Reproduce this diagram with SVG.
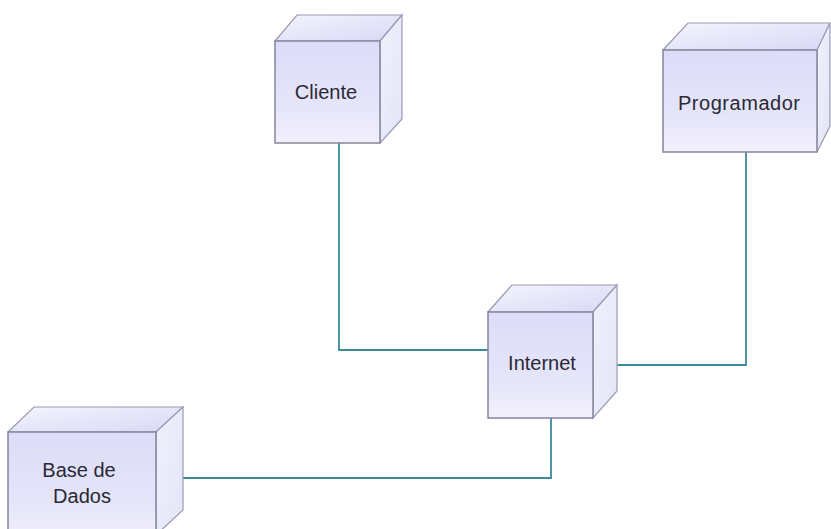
<svg xmlns="http://www.w3.org/2000/svg" width="831" height="529" viewBox="0 0 831 529">
  <defs>
    <linearGradient id="front" x1="0" y1="0" x2="0" y2="1">
      <stop offset="0" stop-color="#dcdcf8"/>
      <stop offset="0.6" stop-color="#e4e4fa"/>
      <stop offset="1" stop-color="#f2f0fc"/>
    </linearGradient>
    <linearGradient id="top" x1="0" y1="0" x2="1" y2="1">
      <stop offset="0" stop-color="#f4f4fe"/>
      <stop offset="1" stop-color="#d8d8f6"/>
    </linearGradient>
    <linearGradient id="side" x1="0" y1="0" x2="1" y2="1">
      <stop offset="0" stop-color="#f0f0fc"/>
      <stop offset="1" stop-color="#e4e4f8"/>
    </linearGradient>
  </defs>
  <style>
    .bg { fill: #ffffff; }
    .front { fill: url(#front); stroke: #85859c; stroke-width: 1.5; }
    .top { fill: url(#top); stroke: #9a9ab4; stroke-width: 1.2; }
    .side { fill: url(#side); stroke: #9a9ab4; stroke-width: 1.2; }
    .label { font-family: "Liberation Sans", Arial, sans-serif; font-size: 20px; fill: #2a2a33; text-anchor: middle; }
    .link { fill: none; stroke: #3d8a98; stroke-width: 1.8; }
  </style>
  <rect class="bg" width="831" height="529"/>

  <g id="connectors">
    <polyline class="link" points="339,143 339,350 488,350"/>
    <polyline class="link" points="617,365 746,365 746,152"/>
    <polyline class="link" points="183,478 551,478 551,418"/>
  </g>

  <g id="cliente">
    <polygon class="top" points="275,41 297,15 402,15 380,41"/>
    <polygon class="side" points="380,41 402,15 402,119 380,143"/>
    <rect class="front" x="275" y="41" width="105" height="102"/>
    <text class="label" x="326" y="99">Cliente</text>
  </g>

  <g id="programador">
    <polygon class="top" points="663,50 688,23 830,23 817,50"/>
    <polygon class="side" points="817,50 830,23 830,126 817,152"/>
    <rect class="front" x="663" y="50" width="154" height="102"/>
    <text class="label" x="739" y="110" textLength="122">Programador</text>
  </g>

  <g id="internet">
    <polygon class="top" points="488,312 512,285 617,285 593,312"/>
    <polygon class="side" points="593,312 617,285 617,391 593,418"/>
    <rect class="front" x="488" y="312" width="105" height="106"/>
    <text class="label" x="542" y="370">Internet</text>
  </g>

  <g id="base-de-dados">
    <polygon class="top" points="8,432 34,407 183,407 156,432"/>
    <polygon class="side" points="156,432 183,407 183,510 156,535"/>
    <rect class="front" x="8" y="432" width="148" height="110"/>
    <text class="label" x="79" y="477">Base de</text>
    <text class="label" x="82" y="503">Dados</text>
  </g>
</svg>
